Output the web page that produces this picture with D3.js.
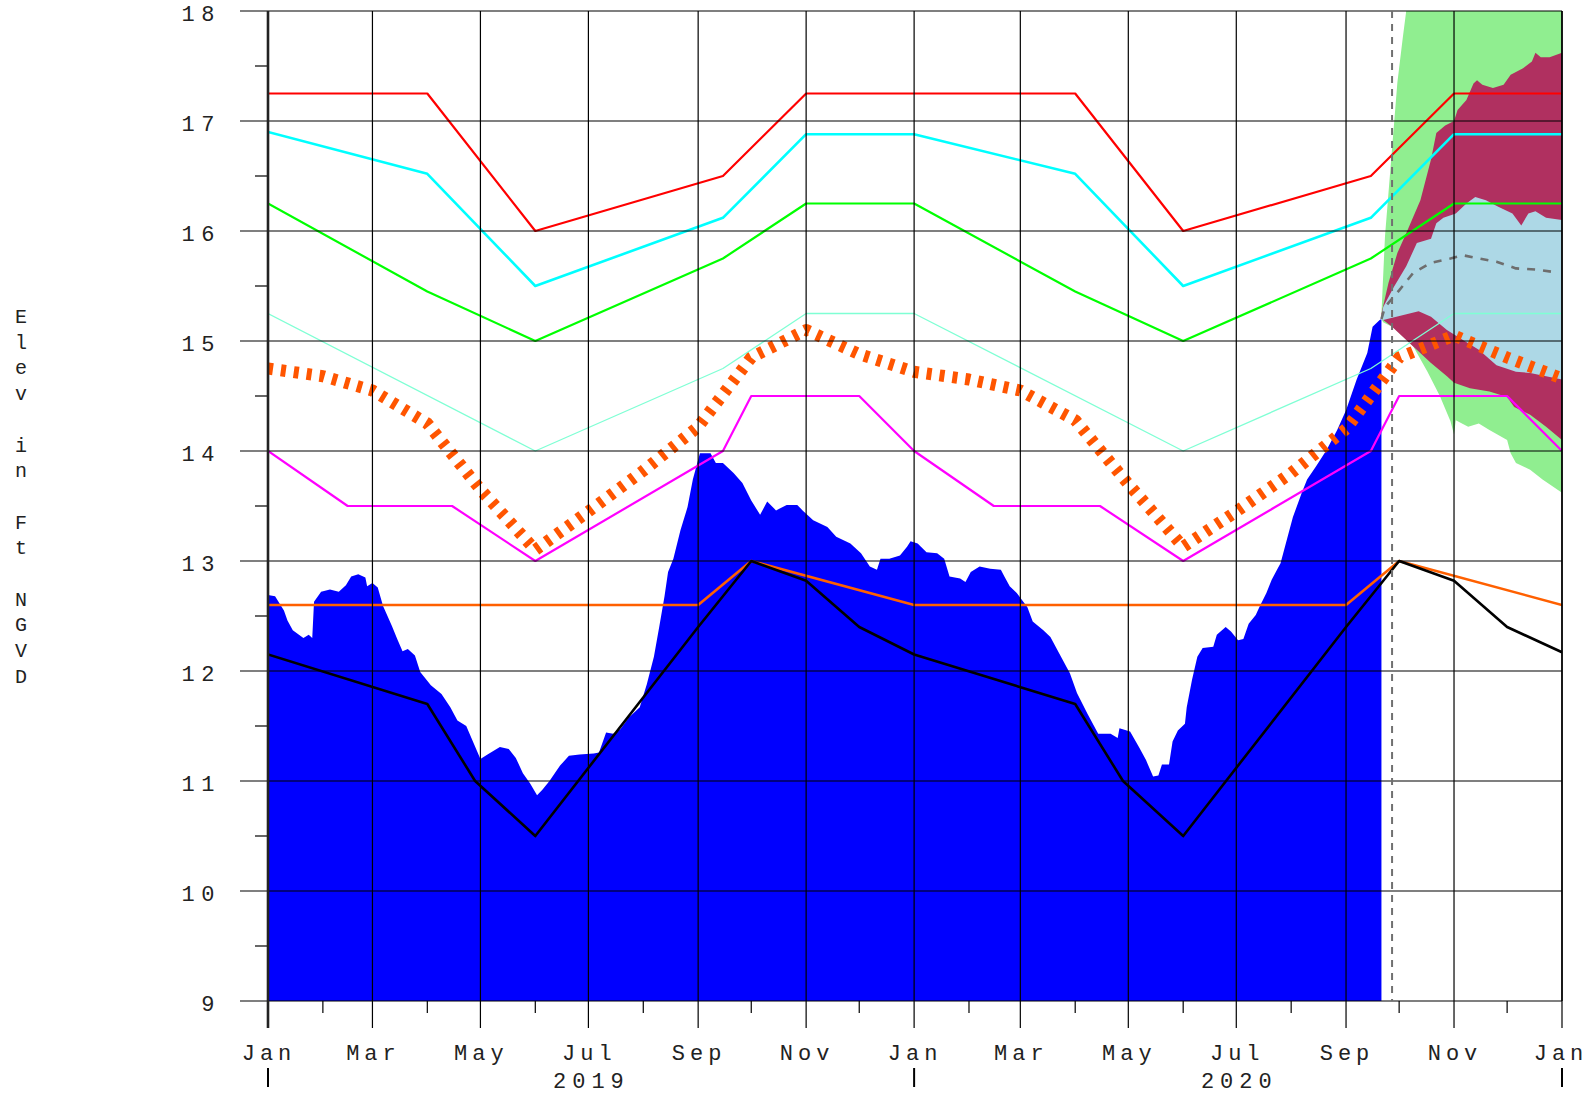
<!DOCTYPE html>
<html><head><meta charset="utf-8">
<script src="https://cdn.jsdelivr.net/npm/d3@7"></script>
<style>body{margin:0;background:#fff}svg{display:block}</style>
</head><body><svg id="c" width="1589" height="1094"></svg>
<script>
// ---------------- DATA ----------------
const obsStage = [
["2019-01-01",12.69],["2019-01-05",12.68],["2019-01-10",12.55],["2019-01-12",12.46],["2019-01-15",12.37],
["2019-01-21",12.30],["2019-01-24",12.33],["2019-01-26",12.30],["2019-01-27",12.63],["2019-01-31",12.72],
["2019-02-05",12.74],["2019-02-10",12.72],["2019-02-14",12.78],["2019-02-17",12.86],["2019-02-21",12.88],
["2019-02-25",12.85],["2019-02-26",12.77],["2019-03-01",12.80],["2019-03-04",12.76],["2019-03-07",12.59],
["2019-03-12",12.41],["2019-03-15",12.29],["2019-03-18",12.18],["2019-03-21",12.20],["2019-03-25",12.14],
["2019-03-28",11.99],["2019-04-03",11.87],["2019-04-09",11.79],["2019-04-14",11.67],["2019-04-18",11.55],
["2019-04-23",11.50],["2019-04-27",11.35],["2019-05-01",11.20],["2019-05-05",11.24],["2019-05-12",11.31],
["2019-05-17",11.29],["2019-05-21",11.21],["2019-05-25",11.07],["2019-05-29",10.98],["2019-06-02",10.87],
["2019-06-05",10.92],["2019-06-09",11.00],["2019-06-15",11.14],["2019-06-20",11.23],["2019-06-26",11.24],
["2019-07-04",11.25],["2019-07-07",11.26],["2019-07-11",11.44],["2019-07-15",11.43],["2019-07-19",11.47],
["2019-07-24",11.58],["2019-07-30",11.67],["2019-08-03",11.88],["2019-08-07",12.13],["2019-08-10",12.40],
["2019-08-13",12.68],["2019-08-15",12.90],["2019-08-18",13.02],["2019-08-22",13.28],["2019-08-26",13.49],
["2019-08-29",13.74],["2019-09-02",13.98],["2019-09-08",13.98],["2019-09-11",13.89],["2019-09-15",13.89],
["2019-09-21",13.80],["2019-09-26",13.71],["2019-10-01",13.55],["2019-10-06",13.42],["2019-10-10",13.54],
["2019-10-15",13.46],["2019-10-21",13.51],["2019-10-27",13.51],["2019-10-30",13.46],["2019-11-05",13.37],
["2019-11-13",13.31],["2019-11-18",13.22],["2019-11-26",13.16],["2019-12-02",13.07],["2019-12-07",12.95],
["2019-12-11",12.92],["2019-12-13",13.02],["2019-12-18",13.02],["2019-12-24",13.05],["2019-12-28",13.13],
["2019-12-30",13.18],["2020-01-03",13.16],["2020-01-08",13.08],["2020-01-14",13.07],["2020-01-18",13.02],
["2020-01-21",12.86],["2020-01-27",12.84],["2020-01-30",12.81],["2020-02-02",12.90],["2020-02-07",12.95],
["2020-02-13",12.93],["2020-02-19",12.92],["2020-02-21",12.86],["2020-02-24",12.77],["2020-02-28",12.71],
["2020-03-05",12.58],["2020-03-08",12.45],["2020-03-14",12.37],["2020-03-18",12.31],["2020-03-23",12.16],
["2020-03-29",11.98],["2020-04-02",11.80],["2020-04-08",11.61],["2020-04-14",11.43],["2020-04-21",11.43],
["2020-04-25",11.39],["2020-04-26",11.48],["2020-05-02",11.45],["2020-05-07",11.31],["2020-05-11",11.19],
["2020-05-15",11.04],["2020-05-18",11.05],["2020-05-20",11.15],["2020-05-24",11.15],["2020-05-26",11.36],
["2020-05-29",11.46],["2020-06-02",11.52],["2020-06-03",11.67],["2020-06-06",11.92],["2020-06-09",12.13],
["2020-06-12",12.21],["2020-06-18",12.22],["2020-06-20",12.33],["2020-06-25",12.40],["2020-06-28",12.36],
["2020-07-02",12.28],["2020-07-05",12.29],["2020-07-08",12.43],["2020-07-12",12.51],["2020-07-14",12.58],
["2020-07-18",12.71],["2020-07-21",12.83],["2020-07-24",12.92],["2020-07-26",12.98],["2020-07-30",13.22],
["2020-08-02",13.40],["2020-08-07",13.62],["2020-08-10",13.74],["2020-08-15",13.86],["2020-08-21",14.01],
["2020-08-27",14.19],["2020-09-01",14.37],["2020-09-07",14.65],["2020-09-13",14.89],["2020-09-16",15.13],
["2020-09-20",15.19],["2020-09-21",15.20]
];

const redLine = [["2019-01-01",17.25],["2019-04-01",17.25],["2019-06-01",16.0],["2019-09-15",16.5],["2019-11-01",17.25],
["2020-04-01",17.25],["2020-06-01",16.0],["2020-09-15",16.5],["2020-11-01",17.25],["2021-01-01",17.25]];
const cyanLine = [["2019-01-01",16.9],["2019-04-01",16.52],["2019-06-01",15.5],["2019-09-15",16.12],["2019-11-01",16.88],
["2020-01-01",16.88],["2020-04-01",16.52],["2020-06-01",15.5],["2020-09-15",16.12],["2020-11-01",16.88],["2021-01-01",16.88]];
const greenLine = [["2019-01-01",16.25],["2019-04-01",15.45],["2019-06-01",15.0],["2019-09-15",15.75],["2019-11-01",16.25],
["2020-01-01",16.25],["2020-04-01",15.45],["2020-06-01",15.0],["2020-09-15",15.75],["2020-11-01",16.25],["2021-01-01",16.25]];
const aquaLine = [["2019-01-01",15.25],["2019-06-01",14.0],["2019-09-15",14.75],["2019-11-01",15.25],
["2020-01-01",15.25],["2020-06-01",14.0],["2020-09-15",14.75],["2020-11-01",15.25],["2021-01-01",15.25]];
const magentaLine = [["2019-01-01",14.0],["2019-02-15",13.5],["2019-04-15",13.5],["2019-06-01",13.0],["2019-09-15",14.0],
["2019-10-01",14.5],["2019-12-01",14.5],["2020-01-01",14.0],["2020-02-15",13.5],["2020-04-15",13.5],["2020-06-01",13.0],
["2020-09-15",14.0],["2020-10-01",14.5],["2020-12-01",14.5],["2021-01-01",14.0]];
const orangeLine = [["2019-01-01",12.6],["2019-09-01",12.6],["2019-10-01",13.0],["2020-01-01",12.6],
["2020-09-01",12.6],["2020-10-01",13.0],["2021-01-01",12.6]];
const blackLine = [["2019-01-01",12.15],["2019-04-01",11.7],["2019-04-28",11.0],["2019-06-01",10.5],["2019-09-01",12.4],
["2019-10-01",13.0],["2019-11-01",12.82],["2019-12-01",12.4],["2020-01-01",12.15],["2020-04-01",11.7],["2020-04-28",11.0],
["2020-06-01",10.5],["2020-09-01",12.4],["2020-10-01",13.0],["2020-11-01",12.82],["2020-12-01",12.4],["2021-01-01",12.17]];
const dashedOrangeLine = [["2019-01-01",14.75],["2019-02-01",14.68],["2019-03-01",14.55],["2019-04-01",14.25],["2019-05-01",13.65],
["2019-06-01",13.1],["2019-07-01",13.45],["2019-08-01",13.82],["2019-09-01",14.22],["2019-10-01",14.85],["2019-11-01",15.1],
["2019-12-01",14.88],["2020-01-01",14.72],["2020-02-01",14.65],["2020-03-01",14.55],["2020-04-01",14.28],["2020-05-01",13.7],
["2020-06-01",13.13],["2020-07-01",13.45],["2020-08-01",13.8],["2020-09-01",14.2],["2020-10-01",14.85],["2020-11-01",15.05],
["2020-12-01",14.85],["2021-01-01",14.66]];

// forecast envelopes
const fcOuterUpper = [["2020-09-21",15.25],["2020-09-23",15.95],["2020-09-27",16.75],["2020-09-30",17.35],["2020-10-03",17.75],
["2020-10-05",18.0],["2020-10-10",18.3],["2021-01-01",19.0]];
const fcOuterLower = [["2020-09-21",15.2],["2020-09-22",15.17],["2020-09-28",15.12],["2020-10-09",14.95],["2020-10-17",14.72],
["2020-10-24",14.5],["2020-10-30",14.27],["2020-11-01",14.15],["2020-11-02",14.28],["2020-11-09",14.22],["2020-11-15",14.25],
["2020-11-21",14.19],["2020-12-01",14.1],["2020-12-03",13.98],["2020-12-06",13.89],["2020-12-14",13.83],["2020-12-21",13.74],
["2021-01-01",13.62]];
const fcMidUpper = [["2020-09-21",15.25],["2020-09-25",15.53],["2020-09-30",15.8],["2020-10-05",15.98],["2020-10-13",16.28],
["2020-10-19",16.65],["2020-10-22",16.89],["2020-10-27",16.96],["2020-11-01",17.0],["2020-11-03",17.1],["2020-11-08",17.19],
["2020-11-12",17.34],["2020-11-14",17.37],["2020-11-17",17.33],["2020-11-23",17.3],["2020-11-29",17.33],["2020-12-03",17.42],
["2020-12-10",17.48],["2020-12-15",17.54],["2020-12-17",17.62],["2020-12-20",17.58],["2020-12-25",17.58],["2021-01-01",17.62]];
const fcMidLower = [["2020-09-21",15.22],["2020-09-22",15.19],["2020-09-27",15.13],["2020-10-07",14.98],["2020-10-19",14.8],
["2020-10-28",14.68],["2020-11-01",14.62],["2020-11-10",14.57],["2020-11-21",14.54],["2020-12-01",14.49],["2020-12-05",14.4],
["2020-12-14",14.33],["2020-12-23",14.22],["2021-01-01",14.1]];
const fcInnerUpper = [["2020-09-21",15.22],["2020-09-22",15.31],["2020-09-28",15.49],["2020-10-05",15.68],["2020-10-11",15.89],
["2020-10-19",15.93],["2020-10-22",16.07],["2020-10-26",16.12],["2020-11-02",16.16],["2020-11-08",16.25],["2020-11-13",16.31],
["2020-11-19",16.28],["2020-11-26",16.22],["2020-12-04",16.16],["2020-12-09",16.05],["2020-12-13",16.16],["2020-12-17",16.18],
["2020-12-23",16.12],["2021-01-01",16.1]];
const fcInnerLower = [["2020-09-21",15.21],["2020-09-22",15.19],["2020-10-12",15.27],["2020-10-19",15.22],["2020-10-28",15.1],
["2020-11-06",15.01],["2020-11-15",14.92],["2020-11-25",14.78],["2020-12-06",14.72],["2020-12-14",14.71],["2020-12-23",14.68],
["2021-01-01",14.65]];
const fcMedian = [["2020-09-21",15.2],["2020-09-23",15.31],["2020-10-01",15.46],["2020-10-09",15.62],["2020-10-19",15.71],
["2020-10-30",15.75],["2020-11-06",15.78],["2020-11-15",15.75],["2020-11-25",15.72],["2020-12-06",15.66],["2020-12-17",15.65],
["2020-12-26",15.63]];
const forecastStart = "2020-09-27";

const yTickValues = [9,10,11,12,13,14,15,16,17,18];
const yMinorValues = [9.5,10.5,11.5,12.5,13.5,14.5,15.5,16.5,17.5];
const monthTickDates = ["2019-01-01","2019-02-01","2019-03-01","2019-04-01","2019-05-01","2019-06-01","2019-07-01","2019-08-01",
"2019-09-01","2019-10-01","2019-11-01","2019-12-01","2020-01-01","2020-02-01","2020-03-01","2020-04-01","2020-05-01","2020-06-01",
"2020-07-01","2020-08-01","2020-09-01","2020-10-01","2020-11-01","2020-12-01","2021-01-01"];
const monthLabelDates = ["2019-01-01","2019-03-01","2019-05-01","2019-07-01","2019-09-01","2019-11-01","2020-01-01","2020-03-01",
"2020-05-01","2020-07-01","2020-09-01","2020-11-01","2021-01-01"];
const monthLabels = ["Jan","Mar","May","Jul","Sep","Nov","Jan","Mar","May","Jul","Sep","Nov","Jan"];
const yearLabelDates = ["2019-07-01","2020-07-01"];
const yearLabels = ["2019","2020"];
const yearTickDates = ["2019-01-01","2020-01-01","2021-01-01"];
const yTitle = "Elev in Ft NGVD";

// ---------------- CHART ----------------
const L=268,R=1562,T=11,B=1001;
const parse = d3.utcParse("%Y-%m-%d");
const x = d3.scaleUtc().domain([parse("2019-01-01"), parse("2021-01-01")]).range([L,R]);
const y = d3.scaleLinear().domain([9,18]).range([B,T]);
const svg = d3.select("#c");
const FONT = "'Liberation Mono', 'DejaVu Sans Mono', monospace";

svg.append("defs").append("clipPath").attr("id","plot")
  .append("rect").attr("x",L).attr("y",T).attr("width",R-L).attr("height",B-T);
const plot = svg.append("g").attr("clip-path","url(#plot)");

const P = a => a.map(d => [parse(d[0]), d[1]]);
const line = d3.line().x(d=>x(d[0])).y(d=>y(d[1]));

// observed stage area
plot.append("path").datum(P(obsStage))
  .attr("d", d3.area().x(d=>x(d[0])).y0(y(9)).y1(d=>y(d[1])))
  .attr("fill","#0000ff");

// forecast bands
function band(up, lo, color){
  const u = P(up), l = P(lo).reverse();
  plot.append("path").attr("d", line(u.concat(l)) + "Z").attr("fill", color);
}
band(fcOuterUpper, fcOuterLower, "#90ee90");
band(fcMidUpper, fcMidLower, "#b03060");
band(fcInnerUpper, fcInnerLower, "#add8e6");

// grid
const grid = svg.append("g");
yTickValues.forEach(v => {
  grid.append("line").attr("x1",240).attr("x2",R).attr("y1",y(v)).attr("y2",y(v))
    .attr("stroke","#000").attr("stroke-width",1.2);
});
yMinorValues.forEach(v => {
  grid.append("line").attr("x1",255).attr("x2",L).attr("y1",y(v)).attr("y2",y(v))
    .attr("stroke","#000").attr("stroke-width",1.2);
});
monthTickDates.forEach(ds => {
  const d = parse(ds), major = d.getUTCMonth() % 2 === 0;
  const xx = x(d);
  if (major) {
    grid.append("line").attr("x1",xx).attr("x2",xx).attr("y1",T).attr("y2",1028)
      .attr("stroke","#000").attr("stroke-width",1.2);
  } else {
    grid.append("line").attr("x1",xx).attr("x2",xx).attr("y1",B).attr("y2",1013)
      .attr("stroke","#000").attr("stroke-width",1.2);
  }
});

// series lines
function drawLine(data, color, w, dash){
  const p = plot.append("path").datum(P(data)).attr("d", line)
    .attr("fill","none").attr("stroke",color).attr("stroke-width",w)
    .attr("stroke-linejoin","round");
  if (dash) p.attr("stroke-dasharray", dash).attr("stroke-linecap","butt");
  return p;
}
drawLine(aquaLine, "#7fffd4", 1.3);
drawLine(magentaLine, "#ff00ff", 2.2);
drawLine(greenLine, "#00ff00", 2.2);
drawLine(cyanLine, "#00ffff", 2.6);
drawLine(redLine, "#ff0000", 2.2);
drawLine(dashedOrangeLine, "#ff5500", 12, "5,8");
drawLine(orangeLine, "#ff6000", 2.6);
drawLine(blackLine, "#000000", 2.6);
drawLine(fcMedian, "#6e6e6e", 2.6, "8,8");

// forecast start marker
const fx = x(parse(forecastStart));
svg.append("line").attr("x1",fx).attr("x2",fx).attr("y1",T).attr("y2",B)
  .attr("stroke","#707070").attr("stroke-width",2).attr("stroke-dasharray","7,6");

// frame
svg.append("line").attr("x1",L).attr("x2",L).attr("y1",T).attr("y2",1028)
  .attr("stroke","#222").attr("stroke-width",2.6);
svg.append("line").attr("x1",R).attr("x2",R).attr("y1",T).attr("y2",B)
  .attr("stroke","#000").attr("stroke-width",1.5);

// y labels
const txt = svg.append("g").attr("font-family",FONT).attr("fill","#222");
yTickValues.forEach(v => {
  txt.append("text").attr("x",221).attr("y",y(v)+10).attr("text-anchor","end")
    .attr("font-size",22).attr("letter-spacing",6.5).text(String(v));
});
// x month labels
monthLabelDates.forEach((ds,i) => {
  const last = i === monthLabelDates.length - 1;
  txt.append("text").attr("x",x(parse(ds)) + (last ? -1 : 1)).attr("y",1060).attr("text-anchor","middle")
    .attr("font-size",22).attr("letter-spacing",5).text(monthLabels[i]);
});
yearLabelDates.forEach((ds,i) => {
  txt.append("text").attr("x",x(parse(ds))+3).attr("y",1088).attr("text-anchor","middle")
    .attr("font-size",22).attr("letter-spacing",6).text(yearLabels[i]);
});
yearTickDates.forEach(ds => {
  const xx = x(parse(ds));
  svg.append("line").attr("x1",xx).attr("x2",xx).attr("y1",1068).attr("y2",1087)
    .attr("stroke","#000").attr("stroke-width",2);
});
// y title: stacked letters
const chars = yTitle.split("");
const lineH = 25.7, y0 = 317;
chars.forEach((c,i) => {
  if (c === " ") return;
  txt.append("text").attr("x",21).attr("y",y0 + i*lineH + 6).attr("text-anchor","middle")
    .attr("font-size",20).text(c);
});
</script>
</body></html>
